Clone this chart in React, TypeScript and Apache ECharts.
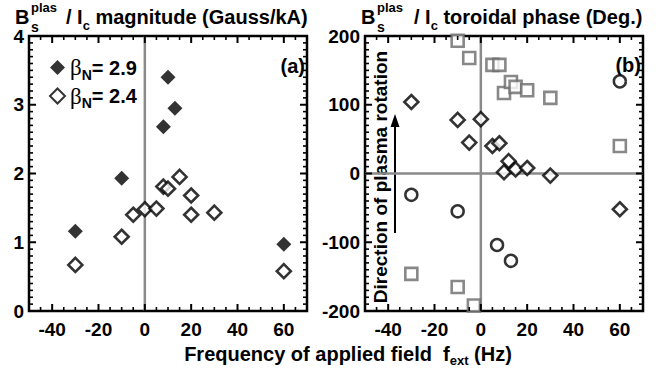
import React, { useEffect, useRef } from "react";
import * as echarts from "echarts";

// ---- data ----
const freqRange = [-50, 70];
const magRange = [0, 4];
const phaseRange = [-200, 200];
const freqTickLabels = ["-40", "-20", "0", "20", "40", "60"];
const freqMajorStep = 20;
const freqMinorStep = 5;
const magMajorStep = 1;
const magMinorStep = 0.1;
const phaseMajorStep = 100;
const phaseMinorStep = 10;

// (a) magnitude, beta_N = 2.9 (filled diamonds)
const magFreq29 = [-30, -10, 8, 10, 13, 60];
const magVal29 = [1.16, 1.93, 2.68, 3.4, 2.95, 0.97];
// (a) magnitude, beta_N = 2.4 (open diamonds)
const magFreq24 = [-30, -10, -5, 0, 5, 8, 10, 15, 20, 20, 30, 60];
const magVal24 = [0.67, 1.08, 1.4, 1.48, 1.49, 1.81, 1.78, 1.95, 1.68, 1.4, 1.43, 0.58];

// (b) toroidal phase
const phaseSqFreq = [-10, -5, 5, 8, 10, 13, 15, 20, 30, 60, -30, -10, -3];
const phaseSqVal = [193, 168, 158, 158, 117, 133, 126, 121, 110, 40, -146, -165, -192];
const phaseCircFreq = [60, -30, -10, 7, 13];
const phaseCircVal = [134, -31, -55, -104, -127];
const phaseDiaFreq = [-30, -10, -5, 0, 5, 8, 12, 10, 15, 20, 30, 60];
const phaseDiaVal = [104, 78, 45, 79, 40, 44, 18, 2, 6, 8, -3, -52];

const zip = (xs: number[], ys: number[]) => xs.map((x, i) => [x, ys[i]]);

// tick positions along an axis range (axis decoration, not data)
const tickList = (range: number[], minor: number, major: number) => {
  const out: number[][] = [];
  const n = Math.round((range[1] - range[0]) / minor);
  for (let i = 0; i <= n; i++) {
    const v = +(range[0] + i * minor).toFixed(6);
    const isMajor = Math.abs(v / major - Math.round(v / major)) < 1e-6 ? 1 : 0;
    out.push([v, isMajor]);
  }
  return out;
};

const FONT = "'Liberation Sans', Arial, Helvetica, sans-serif";
const INK = "#000";

export default function App() {
  const ref = useRef<HTMLDivElement>(null);

  useEffect(() => {
    if (!ref.current) return;
    const chart = echarts.init(ref.current, undefined, { renderer: "svg" });

    const mkLabel = () => ({ color: INK, fontFamily: FONT, fontWeight: "bold", fontSize: 19 });

    const xAxisFor = (grid: number) => ({
      type: "value",
      gridIndex: grid,
      min: freqRange[0],
      max: freqRange[1],
      splitNumber: 6,
      axisLine: { show: false },
      axisTick: { show: false },
      splitLine: { show: false },
      axisLabel: {
        ...mkLabel(),
        margin: 9,
        formatter: (v: number) => (freqTickLabels.includes(String(v)) ? String(v) : ""),
      },
    });

    const yAxisFor = (grid: number, range: number[], interval: number) => ({
      type: "value",
      gridIndex: grid,
      min: range[0],
      max: range[1],
      interval,
      axisLine: { show: false },
      axisTick: { show: false },
      splitLine: { show: false },
      axisLabel: { ...mkLabel(), margin: 5 },
    });

    // inward ticks on bottom & top edges, at x values, through the axis scale
    const xTickSeries = (axisIdx: number, yRange: number[], minor: number, major: number) => ({
      type: "custom",
      xAxisIndex: axisIdx,
      yAxisIndex: axisIdx,
      silent: true,
      clip: false,
      z: 10,
      encode: { x: 0, y: -1 },
      data: tickList(freqRange, minor, major),
      renderItem: (params: any, api: any) => {
        const v = api.value(0);
        const major = api.value(1) === 1;
        const len = major ? 7 : 4;
        const lw = major ? 2 : 1.6;
        const pb = api.coord([v, yRange[0]]);
        const pt = api.coord([v, yRange[1]]);
        return {
          type: "group",
          children: [
            { type: "line", shape: { x1: pb[0], y1: pb[1], x2: pb[0], y2: pb[1] - len }, style: { stroke: INK, lineWidth: lw } },
            { type: "line", shape: { x1: pt[0], y1: pt[1], x2: pt[0], y2: pt[1] + len }, style: { stroke: INK, lineWidth: lw } },
          ],
        };
      },
    });

    // inward ticks on left & right edges, at y values
    const yTickSeries = (axisIdx: number, yRange: number[], minor: number, major: number) => ({
      type: "custom",
      xAxisIndex: axisIdx,
      yAxisIndex: axisIdx,
      silent: true,
      clip: false,
      z: 10,
      encode: { x: -1, y: 0 },
      data: tickList(yRange, minor, major),
      renderItem: (params: any, api: any) => {
        const v = api.value(0);
        const major = api.value(1) === 1;
        const len = major ? 7 : 4;
        const lw = major ? 2 : 1.6;
        const pl = api.coord([freqRange[0], v]);
        const pr = api.coord([freqRange[1], v]);
        return {
          type: "group",
          children: [
            { type: "line", shape: { x1: pl[0], y1: pl[1], x2: pl[0] + len, y2: pl[1] }, style: { stroke: INK, lineWidth: lw } },
            { type: "line", shape: { x1: pr[0], y1: pr[1], x2: pr[0] - len, y2: pr[1] }, style: { stroke: INK, lineWidth: lw } },
          ],
        };
      },
    });

    const mkZero = () => ({ color: "#8a8a8a", width: 2.5 });
    const mkOpen = () => ({ color: "#fff", borderColor: INK, borderWidth: 2.6 });

    const richSub = (lh: number) => ({
      n: { fontFamily: FONT, fontWeight: "bold", fontSize: 20, lineHeight: lh, color: INK },
      s: { fontFamily: FONT, fontWeight: "bold", fontSize: 13, color: INK, verticalAlign: "bottom" },
    });

    const bTitle = (x: number, xRest: number, rest: string) => [
      {
        type: "text",
        x,
        y: 17,
        style: { text: "B", font: `bold 20px ${FONT}`, fill: INK, verticalAlign: "middle" },
      },
      {
        type: "text",
        x: x + 16,
        y: 7,
        style: { text: "plas", font: `bold 13px ${FONT}`, fill: INK, verticalAlign: "middle" },
      },
      {
        type: "text",
        x: x + 16,
        y: 27,
        style: { text: "s", font: `bold 14px ${FONT}`, fill: INK, verticalAlign: "middle" },
      },
      {
        type: "text",
        x: xRest,
        y: 17,
        style: {
          text: `{n|/ I}{s|c}{n| ${rest}}`,
          rich: richSub(30),
          verticalAlign: "middle",
        },
      },
    ];

    const frame = { show: true, borderColor: INK, borderWidth: 2.5, backgroundColor: "transparent" };

    const option: any = {
      animation: false,
      backgroundColor: "#fff",
      grid: [
        { left: 29, top: 36, width: 278, height: 275, ...frame },
        { left: 365, top: 36, width: 278, height: 275, ...frame },
      ],
      xAxis: [xAxisFor(0), xAxisFor(1)],
      yAxis: [yAxisFor(0, magRange, 1), yAxisFor(1, phaseRange, 100)],
      legend: {
        orient: "vertical",
        left: 44,
        top: 51,
        itemWidth: 15,
        itemHeight: 15,
        itemGap: 3,
        selectedMode: false,
        data: [
          { name: "βN= 2.9", icon: "diamond" },
          { name: "βN= 2.4", icon: "diamond" },
        ],
        formatter: (name: string) => `{b|β}{s|N}{t|${name.replace("βN", "")}}`,
        textStyle: {
          rich: {
            b: { fontFamily: "'Liberation Serif', serif", fontSize: 23, lineHeight: 28, color: INK },
            s: { fontFamily: FONT, fontWeight: "bold", fontSize: 14, color: INK, verticalAlign: "bottom" },
            t: { fontFamily: FONT, fontWeight: "bold", fontSize: 20, lineHeight: 28, color: INK },
          },
        },
      },
      series: [
        xTickSeries(0, magRange, freqMinorStep, freqMajorStep),
        yTickSeries(0, magRange, magMinorStep, magMajorStep),
        xTickSeries(1, phaseRange, freqMinorStep, freqMajorStep),
        yTickSeries(1, phaseRange, phaseMinorStep, phaseMajorStep),
        {
          type: "line",
          xAxisIndex: 0,
          yAxisIndex: 0,
          data: [
            [0, magRange[0]],
            [0, magRange[1]],
          ],
          showSymbol: false,
          silent: true,
          lineStyle: mkZero(),
          z: 1,
        },
        {
          name: "βN= 2.9",
          type: "scatter",
          xAxisIndex: 0,
          yAxisIndex: 0,
          symbol: "diamond",
          symbolSize: 15,
          itemStyle: { color: INK },
          data: zip(magFreq29, magVal29),
          z: 3,
        },
        {
          name: "βN= 2.4",
          type: "scatter",
          xAxisIndex: 0,
          yAxisIndex: 0,
          symbol: "diamond",
          symbolSize: 14,
          itemStyle: mkOpen(),
          data: zip(magFreq24, magVal24),
          z: 3,
        },
        {
          type: "line",
          xAxisIndex: 1,
          yAxisIndex: 1,
          data: [
            [0, phaseRange[0]],
            [0, phaseRange[1]],
          ],
          showSymbol: false,
          silent: true,
          lineStyle: mkZero(),
          z: 1,
        },
        {
          type: "line",
          xAxisIndex: 1,
          yAxisIndex: 1,
          data: [
            [freqRange[0], 0],
            [freqRange[1], 0],
          ],
          showSymbol: false,
          silent: true,
          lineStyle: mkZero(),
          z: 1,
        },
        {
          name: "phase-square",
          type: "scatter",
          xAxisIndex: 1,
          yAxisIndex: 1,
          symbol: "rect",
          symbolSize: 12,
          itemStyle: { color: "#fff", borderColor: "#6a6a6a", borderWidth: 2.6 },
          data: zip(phaseSqFreq, phaseSqVal),
          z: 3,
        },
        {
          name: "phase-circle",
          type: "scatter",
          xAxisIndex: 1,
          yAxisIndex: 1,
          symbol: "circle",
          symbolSize: 12,
          itemStyle: { color: "#fff", borderColor: INK, borderWidth: 2.5 },
          data: zip(phaseCircFreq, phaseCircVal),
          z: 3,
        },
        {
          name: "phase-diamond",
          type: "scatter",
          xAxisIndex: 1,
          yAxisIndex: 1,
          symbol: "diamond",
          symbolSize: 14,
          itemStyle: mkOpen(),
          data: zip(phaseDiaFreq, phaseDiaVal),
          z: 3,
        },
      ],
      graphic: [
        ...bTitle(15, 66, "magnitude (Gauss/kA)"),
        ...bTitle(361, 414, "toroidal phase (Deg.)"),
        {
          type: "text",
          x: 305,
          y: 66,
          style: { text: "(a)", font: `bold 20px ${FONT}`, fill: INK, align: "right", verticalAlign: "middle" },
        },
        {
          type: "text",
          x: 641,
          y: 65,
          style: { text: "(b)", font: `bold 20px ${FONT}`, fill: INK, align: "right", verticalAlign: "middle" },
        },
        {
          type: "text",
          x: 380,
          y: 177,
          rotation: Math.PI / 2,
          style: {
            text: "Direction of plasma rotation",
            font: `bold 19px ${FONT}`,
            fill: INK,
            align: "center",
            verticalAlign: "middle",
          },
        },
        {
          type: "line",
          shape: { x1: 395, y1: 233, x2: 395, y2: 124 },
          style: { stroke: INK, lineWidth: 2 },
        },
        {
          type: "polygon",
          shape: { points: [[395, 114], [390.5, 127], [399.5, 127]] },
          style: { fill: INK },
        },
        {
          type: "text",
          x: 348,
          y: 354,
          style: {
            text: "{n|Frequency of applied field  f}{s|ext}{n| (Hz)}",
            rich: richSub(26),
            align: "center",
            verticalAlign: "middle",
          },
        },
      ],
    };

    chart.setOption(option);
    return () => chart.dispose();
  }, []);

  return (
    <div style={{ position: "absolute", left: 0, top: 0, width: 656, height: 370 }}>
      <div ref={ref} style={{ width: 656, height: 370 }} />
    </div>
  );
}
